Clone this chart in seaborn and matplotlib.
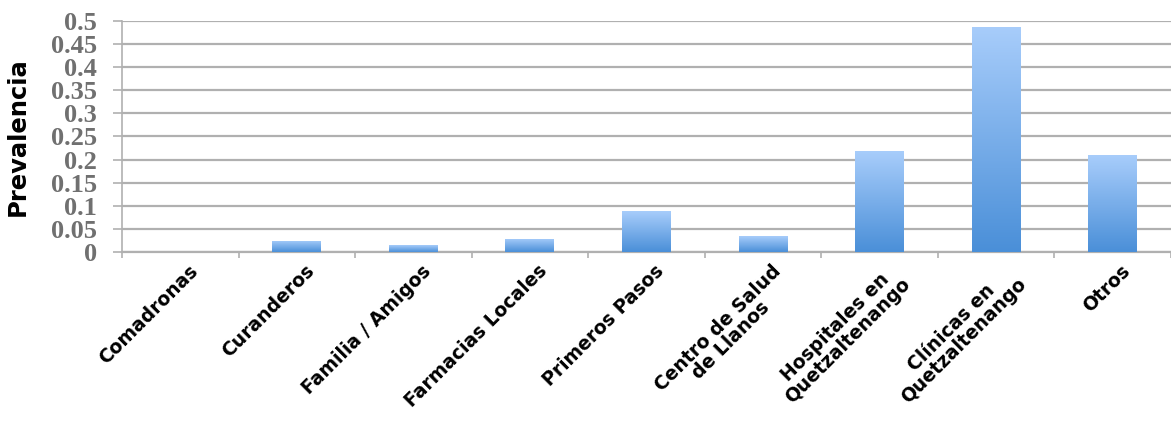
import numpy as np
import pandas as pd
import matplotlib
matplotlib.use("Agg")
import matplotlib.pyplot as plt
import matplotlib.transforms as mtransforms
import seaborn as sns
from matplotlib.colors import LinearSegmentedColormap
from matplotlib.ticker import FixedLocator

categories = ["Comadronas", "Curanderos", "Familia / Amigos", "Farmacias Locales",
              "Primeros Pasos", "Centro de Salud\nde Llanos", "Hospitales en\nQuetzaltenango",
              "Clínicas en\nQuetzaltenango", "Otros"]
prevalencia = [0.0, 0.024, 0.015, 0.029, 0.088, 0.034, 0.218, 0.487, 0.209]
y_ticks = [0, 0.05, 0.1, 0.15, 0.2, 0.25, 0.3, 0.35, 0.4, 0.45, 0.5]
y_tick_labels = ["0", "0.05", "0.1", "0.15", "0.2", "0.25", "0.3", "0.35", "0.4", "0.45", "0.5"]

df = pd.DataFrame({"categoria": categories, "prevalencia": prevalencia})

sns.set_theme(style="white")
plt.rcParams["font.family"] = ["DejaVu Sans"]

fig = plt.figure(figsize=(11.71, 4.23), dpi=100)
ax = fig.add_axes([0.1042, 0.404, 0.8958, 0.547])

grid_col = "#b0b0b0"
sns.barplot(data=df, x="categoria", y="prevalencia", ax=ax, color="#5b9be0",
            width=0.42, edgecolor="none", zorder=3)

# vertical gradient fill for each bar, clipped to its rectangle
grad = LinearSegmentedColormap.from_list("bar_grad", ["#4a8fd8", "#a8cdfb"])
gradient = np.linspace(0, 1, 256).reshape(-1, 1)
for patch in ax.patches:
    x0, y0 = patch.get_x(), patch.get_y()
    w, h = patch.get_width(), patch.get_height()
    if h <= 0:
        continue
    im = ax.imshow(gradient, cmap=grad, origin="lower", aspect="auto",
                   extent=(x0, x0 + w, y0, y0 + h), zorder=4, interpolation="bicubic")
    im.set_clip_path(patch)
    patch.set_facecolor("none")

ax.set_xlim(-0.5, len(categories) - 0.5)
ax.set_ylim(0, 0.5)
ax.set_yticks(y_ticks)
ax.set_yticklabels(y_tick_labels, family="Liberation Serif", fontsize=19,
                   fontweight="bold", color="#707070")
ax.yaxis.grid(True, color=grid_col, linewidth=1.6, zorder=0)
ax.tick_params(axis="y", width=1.2, color=grid_col, length=6.5, pad=11.5, left=True)

ax.set_xticks(range(len(categories)))
ax.set_xticklabels(categories, rotation=45, ha="right", rotation_mode="anchor",
                   fontsize=13.5, fontweight="bold", color="black", multialignment="center",
                   linespacing=0.95)
ax.tick_params(axis="x", length=0, pad=8)
shift = mtransforms.ScaledTranslation(8 / 100, 2 / 100, fig.dpi_scale_trans)
for lbl in ax.get_xticklabels():
    lbl.set_transform(lbl.get_transform() + shift)
# boundary ticks between categories
ax.xaxis.set_minor_locator(FixedLocator(np.arange(-0.5, len(categories), 1.0)))
ax.tick_params(axis="x", which="minor", length=4.5, width=1.2, color=grid_col, bottom=True)

for side in ["top", "right"]:
    ax.spines[side].set_visible(False)
ax.spines["left"].set_color(grid_col)
ax.spines["left"].set_linewidth(1.2)
ax.spines["bottom"].set_color(grid_col)
ax.spines["bottom"].set_linewidth(1.6)

ax.set_xlabel("")
ax.set_ylabel("Prevalencia", fontsize=17.5, fontweight="bold", color="black",
              family=["DejaVu Sans"])
ax.yaxis.set_label_coords(-0.088, 0.5)

fig.savefig("out.png", dpi=100)
